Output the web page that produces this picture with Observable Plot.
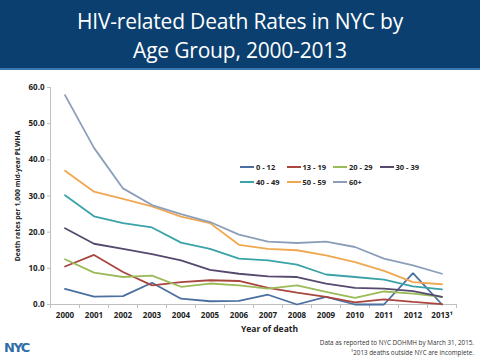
<!DOCTYPE html>
<html>
<head>
<meta charset="utf-8">
<script src="https://cdn.jsdelivr.net/npm/d3@7"></script>
<script src="https://cdn.jsdelivr.net/npm/@observablehq/plot@0.6"></script>
<style>
  html, body { margin: 0; padding: 0; background: #fff; }
  body { width: 480px; height: 360px; position: relative; overflow: hidden; font-family: "Open Sans", "DejaVu Sans", sans-serif; }
  #title { position: absolute; left: 0; top: 0; width: 480px; height: 70px; background: #0a3f6f; border-bottom: 2px solid #3b78b0; color: #fff; text-align: center; font-size: 21px; line-height: 29px; padding-top: 7px; box-sizing: border-box; letter-spacing: -0.2px; }
  #chart { position: absolute; left: 0; top: 72px; }
  #legend { position: absolute; left: 240px; top: 159px; font-size: 7.5px; font-weight: bold; color: #222; font-family: "Open Sans", sans-serif; }
  .row { display: flex; height: 15px; align-items: center; }
  .item { display: flex; align-items: center; width: 46.5px; }
  .sw { width: 14px; height: 2px; margin-right: 2px; }
  #note { position: absolute; right: 6px; top: 338px; font-size: 6.3px; line-height: 10px; text-align: right; color: #333; }
  #logo { position: absolute; left: 4px; top: 340px; font-size: 13px; font-weight: 900; color: #2f6ea8; font-family: "DejaVu Sans", sans-serif; letter-spacing: -1.5px; transform: scaleY(0.9); }
</style>
</head>
<body>
<div id="title">HIV-related Death Rates in NYC by<br>Age Group, 2000-2013</div>
<div id="chart"></div>
<div id="legend"></div>
<div id="note">Data as reported to NYC DOHMH by March 31, 2015.<br>¹2013 deaths outside NYC are incomplete.</div>
<div id="logo">NYC</div>
<script>
const years = [2000, 2001, 2002, 2003, 2004, 2005, 2006, 2007, 2008, 2009, 2010, 2011, 2012, 2013];
const yearLabels = ["2000", "2001", "2002", "2003", "2004", "2005", "2006", "2007", "2008", "2009", "2010", "2011", "2012", "2013¹"];
const groups = ["0 - 12", "13 - 19", "20 - 29", "30 - 39", "40 - 49", "50 - 59", "60+"];
const colors = ["#4a6fa0", "#a9463f", "#9bbb59", "#55496e", "#3aa3a8", "#f0a850", "#8c9fba"];

const age0_12  = [4.3, 2.2, 2.3, 6.0, 1.6, 0.9, 1.0, 2.7, 0.0, 2.1, 0.0, 0.0, 8.7, 0.0];
const age13_19 = [10.5, 13.7, 9.0, 5.3, 6.2, 6.7, 6.5, 4.6, 3.3, 2.1, 0.6, 1.4, 0.7, 0.1];
const age20_29 = [12.5, 8.8, 7.6, 8.0, 4.9, 5.8, 5.3, 4.4, 5.3, 3.5, 1.8, 3.6, 3.0, 2.1];
const age30_39 = [21.1, 16.8, 15.4, 13.9, 12.2, 9.6, 8.5, 7.8, 7.6, 5.8, 4.6, 4.4, 3.7, 2.1];
const age40_49 = [30.2, 24.4, 22.5, 21.3, 17.1, 15.4, 12.7, 12.2, 11.0, 8.3, 7.6, 6.9, 5.0, 4.2];
const age50_59 = [37.0, 31.2, 29.2, 27.1, 24.3, 22.5, 16.5, 15.4, 15.0, 13.6, 11.7, 9.3, 6.2, 5.6];
const age60p   = [57.9, 43.3, 32.1, 27.5, 25.0, 22.8, 19.3, 17.4, 17.0, 17.4, 15.9, 12.7, 10.8, 8.5];

const series = [age0_12, age13_19, age20_29, age30_39, age40_49, age50_59, age60p];
const data = [];
series.forEach((vals, gi) => vals.forEach((v, i) => data.push({group: groups[gi], year: years[i], value: v})));

const xDomain = [years[0] - 0.5, years[years.length - 1] + 0.5];
const boundaries = years.map(y => y - 0.5).concat([years[years.length - 1] + 0.5]);
const axisGray = "#bfbfbf";
const fontFam = "'Open Sans', sans-serif";

const chart = Plot.plot({
  width: 480,
  height: 288,
  marginLeft: 50,
  marginRight: 24,
  marginTop: 15,
  marginBottom: 56,
  style: {fontFamily: fontFam, fontSize: "8px", color: "#222", background: "transparent"},
  x: {type: "linear", domain: xDomain},
  y: {domain: [0, 60]},
  color: {domain: groups, range: colors},
  marks: [
    Plot.ruleY([0], {stroke: axisGray, strokeWidth: 1}),
    Plot.ruleX([xDomain[0]], {y1: 0, y2: 60, stroke: axisGray, strokeWidth: 1}),
    Plot.axisY({ticks: [0, 10, 20, 30, 40, 50, 60], tickFormat: d3.format(".1f"), tickSize: 3, tickPadding: 3, stroke: axisGray, fontWeight: "bold", fontSize: 8, label: null}),
    Plot.axisX({ticks: boundaries, tickSize: 4, tickFormat: null, stroke: axisGray, label: null, text: null}),
    Plot.axisX({ticks: years, tickSize: 0, tickPadding: 8, tickFormat: d => yearLabels[years.indexOf(d)], fontWeight: "bold", fontSize: 8, label: null}),
    Plot.text(["Death rates per 1,000 mid-year PLWHA"], {frameAnchor: "left", textAnchor: "middle", dx: -33, rotate: -90, fontWeight: "bold", fontSize: 6.8, fill: "#222"}),
    Plot.text(["Year of death"], {frameAnchor: "bottom", textAnchor: "middle", dx: 16, dy: 27, fontWeight: "bold", fontSize: 8.5, fill: "#222"}),
    Plot.line(data, {x: "year", y: "value", z: "group", stroke: "group", strokeWidth: 1.8, strokeLinejoin: "miter"})
  ]
});
document.getElementById("chart").appendChild(chart);

const legend = document.getElementById("legend");
const rows = [[0, 1, 2, 3], [4, 5, 6]];
rows.forEach(r => {
  const row = document.createElement("div");
  row.className = "row";
  r.forEach(i => {
    const item = document.createElement("div");
    item.className = "item";
    const sw = document.createElement("div");
    sw.className = "sw";
    sw.style.background = colors[i];
    const t = document.createElement("span");
    t.textContent = groups[i];
    item.appendChild(sw);
    item.appendChild(t);
    row.appendChild(item);
  });
  legend.appendChild(row);
});
</script>
</body>
</html>
